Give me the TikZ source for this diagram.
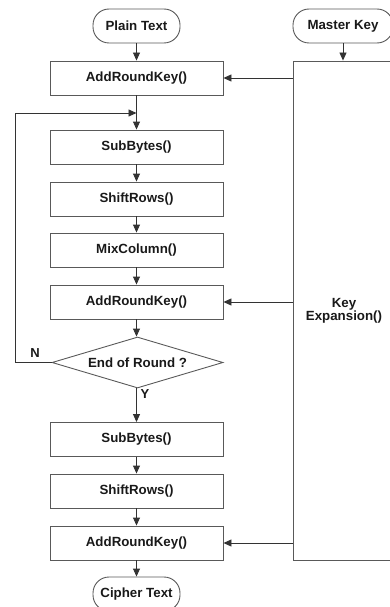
\documentclass[tikz,border=0pt]{standalone}
\usepackage{fontspec}
\setmainfont{Liberation Sans}
\usetikzlibrary{shapes.geometric,arrows.meta}
\begin{document}
\begin{tikzpicture}[x=1pt,y=-1pt,
  every node/.style={font=\bfseries\fontsize{13.3}{15}\selectfont, text=black!90, inner sep=0pt},
  proc/.style={draw=black!65, line width=0.9pt, minimum width=173pt, minimum height=34pt},
  term/.style={draw=black!65, line width=0.9pt, minimum width=87pt, minimum height=34pt, rounded corners=16pt},
  dec/.style={draw=black!65, line width=0.9pt, diamond, minimum width=171pt, minimum height=51pt},
  conn/.style={draw=black!80, line width=0.9pt, -{Triangle[length=8pt,width=7pt]}},
  lbl/.style={font=\bfseries\fontsize{13}{15}\selectfont}]
\useasboundingbox (0,0) rectangle (390,607);
\node[term] (plain) at (136.5,26) {Plain Text};
\node[term, minimum width=100pt] (master) at (343,26) {Master Key};
\node[proc] (ark1) at (136.5,78) {AddRoundKey()};
\node[proc] (sb1) at (136.5,147) {SubBytes()};
\node[proc] (sr1) at (136.5,199) {ShiftRows()};
\node[proc] (mc) at (136.5,250) {MixColumn()};
\node[proc] (ark2) at (136.5,302) {AddRoundKey()};
\node[dec, aspect=3.35, inner sep=0pt] (end) at (137.5,362.5) {};
\node at (137.5,362.5) {End of Round ?};
\node[proc] (sb2) at (136.5,439.5) {SubBytes()};
\node[proc] (sr2) at (136.5,491) {ShiftRows()};
\node[proc] (ark3) at (136.5,543) {AddRoundKey()};
\node[term] (cipher) at (136.5,594) {Cipher Text};
\node[proc, minimum width=102pt, minimum height=499pt, align=center] (key) at (344,310.5) {Key\\[-2pt]Expansion()};
\coordinate (loopA) at (15,362.5);
\coordinate (loopB) at (15,113);
\coordinate (loopC) at (136.5,113);
\coordinate (ym) at (136.5,113);
\path[conn] (plain) -- (ark1);
\path[conn] (master.south) -- (master.south |- key.north);
\path[conn] (ark1) -- (sb1);
\path[conn] (sb1) -- (sr1);
\path[conn] (sr1) -- (mc);
\path[conn] (mc) -- (ark2);
\path[conn] (ark2) -- (end.north -| ark2.south);
\path[conn] (end.south -| sb2.north) -- (sb2);
\path[conn] (sb2) -- (sr2);
\path[conn] (sr2) -- (ark3);
\path[conn] (ark3) -- (cipher);
\path[conn] (end.west) -- (loopA) -- (loopB) -- (loopC);
\path[conn] (key.west |- ark1.east) -- (ark1.east);
\path[conn] (key.west |- ark2.east) -- (ark2.east);
\path[conn] (key.west |- ark3.east) -- (ark3.east);
\node[lbl] (nlab) at (35,353) {N};
\node[lbl] (ylab) at (145,394) {Y};
\end{tikzpicture}
\end{document}
